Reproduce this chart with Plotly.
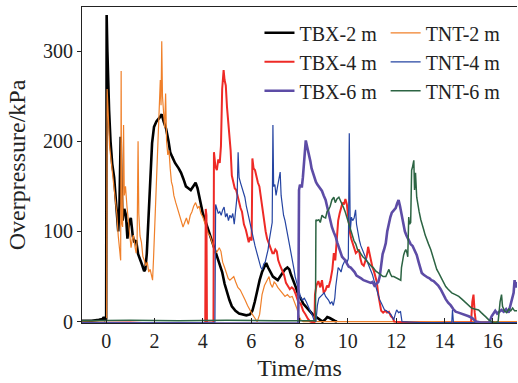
import plotly.graph_objects as go

# ---- data: (time in ms, overpressure in kPa) ----
tbx_2m = [(-1.0,1),(-0.6,1),(-0.3,2),(-0.15,3),(-0.1,5),(-0.05,2),(0.0,3),(0.02,340),(0.05,300),(0.08,265),
          (0.12,235),(0.18,200),(0.25,175),(0.33,160),(0.4,135),(0.45,118),(0.5,100),(0.55,128),(0.6,205),(0.63,160),
          (0.68,112),(0.75,125),(0.82,118),(0.88,92),(0.95,110),(1.02,115),(1.1,95),(1.17,88),(1.24,90),(1.32,75),
          (1.4,68),(1.5,62),(1.57,56),(1.62,58),(1.68,75),(1.75,110),(1.82,160),(1.9,198),(1.98,216),(2.08,222),
          (2.2,226),(2.3,230),(2.38,222),(2.48,214),(2.58,200),(2.65,188),(2.73,183),(2.85,176),(3.0,170),(3.1,165),
          (3.2,158),(3.3,150),(3.4,148),(3.5,146),(3.6,150),(3.7,154),(3.78,148),(3.85,138),(3.92,128),(4.0,120),
          (4.1,112),(4.2,104),(4.3,96),(4.4,88),(4.5,80),(4.6,72),(4.7,65),(4.8,55),(4.9,42),(5.0,32),
          (5.1,24),(5.2,17),(5.35,12),(5.5,9),(5.65,8),(5.8,7),(5.95,8),(6.05,12),(6.15,22),(6.25,35),
          (6.35,46),(6.45,55),(6.55,62),(6.62,65),(6.7,60),(6.8,54),(6.9,50),(7.0,48),(7.1,46),(7.2,50),
          (7.3,54),(7.4,58),(7.5,60),(7.58,58),(7.65,52),(7.75,46),(7.85,38),(7.95,30),(8.05,26),(8.15,20),
          (8.25,17),(8.35,14),(8.45,10),(8.55,8),(8.65,6),(8.75,4),(8.85,2),(8.95,0),(9.05,2),(9.15,5),
          (9.25,4),(9.35,2),(9.45,1),(9.55,0)]

tnt_2m = [(-1,0.5),(-0.5,1),(0,1),(0.02,2),(0.04,258),(0.07,240),(0.1,210),(0.14,195),(0.2,180),(0.26,160),
          (0.32,150),(0.38,135),(0.44,120),(0.5,95),(0.55,80),(0.6,68),(0.62,278),(0.64,110),(0.68,105),(0.72,218),
          (0.75,140),(0.8,150),(0.86,128),(0.92,110),(0.97,100),(1.03,82),(1.08,92),(1.13,96),(1.18,85),(1.24,76),
          (1.28,90),(1.32,200),(1.35,120),(1.4,95),(1.46,88),(1.52,72),(1.58,68),(1.64,62),(1.7,66),(1.76,55),
          (1.82,58),(1.88,48),(1.92,46),(1.96,70),(2.02,110),(2.06,130),(2.1,165),(2.15,190),(2.2,225),(2.24,268),
          (2.27,240),(2.3,311),(2.33,250),(2.37,230),(2.42,215),(2.46,253),(2.5,200),(2.55,185),(2.6,190),(2.65,170),
          (2.7,155),(2.75,150),(2.8,140),(2.88,132),(2.95,125),(3.02,120),(3.1,112),(3.18,105),(3.25,110),(3.32,115),
          (3.4,108),(3.48,118),(3.55,122),(3.62,128),(3.7,132),(3.78,126),(3.85,128),(3.92,120),(4.0,116),(4.08,110),
          (4.15,104),(4.22,98),(4.3,95),(4.38,88),(4.45,82),(4.52,76),(4.6,78),(4.68,82),(4.75,78),(4.82,66),
          (4.9,60),(4.98,54),(5.05,48),(5.12,46),(5.2,48),(5.28,50),(5.36,44),(5.45,38),(5.55,35),(5.65,30),
          (5.75,24),(5.85,18),(5.95,12),(6.05,8),(6.15,4),(6.25,0),(6.35,8),(6.45,30),(6.55,40),(6.65,45),
          (6.74,50),(6.8,42),(6.88,38),(6.95,44),(7.02,42),(7.1,38),(7.2,35),(7.3,32),(7.4,28),(7.5,30),
          (7.6,27),(7.7,28),(7.8,22),(7.9,14),(7.98,6),(8.05,2),(8.15,0),(9,0),(12,0),(17,0)]

tbx_4m = [(-1,-1.5),(0,-1.5),(1,-1),(2,-2),(3,-1.5),(4.1,-1.5),(4.12,125),(4.15,118),(4.17,-1),(4.44,-1),
          (4.46,188),(4.52,172),(4.58,168),(4.64,180),(4.7,176),(4.75,195),(4.8,258),(4.86,279),(4.9,268),(4.95,262),
          (5.0,238),(5.05,222),(5.1,210),(5.15,190),(5.2,162),(5.26,155),(5.32,148),(5.38,146),(5.44,138),(5.5,132),
          (5.56,126),(5.62,122),(5.7,108),(5.78,102),(5.85,92),(5.9,88),(5.96,94),(6.02,90),(6.05,181),(6.1,170),
          (6.16,168),(6.22,160),(6.28,154),(6.34,150),(6.4,138),(6.46,125),(6.53,110),(6.6,100),(6.66,92),(6.72,88),
          (6.8,82),(6.88,76),(6.94,76),(7.0,80),(7.06,78),(7.12,68),(7.2,62),(7.28,56),(7.36,52),(7.44,43),
          (7.52,40),(7.6,36),(7.68,38),(7.76,36),(7.85,30),(7.95,22),(8.05,20),(8.15,12),(8.25,8),(8.35,3),
          (8.45,0),(8.55,-1),(8.62,-1),(8.64,30),(8.7,40),(8.78,45),(8.86,38),(8.93,46),(9.0,32),(9.08,35),
          (9.14,40),(9.2,38),(9.28,46),(9.36,58),(9.42,76),(9.48,68),(9.55,98),(9.6,112),(9.66,120),(9.72,128),
          (9.78,132),(9.84,130),(9.9,136),(9.96,130),(10.02,114),(10.08,100),(10.14,92),(10.2,86),(10.27,80),(10.33,76),
          (10.4,78),(10.46,80),(10.52,70),(10.58,64),(10.66,62),(10.72,66),(10.78,72),(10.84,83),(10.9,75),(10.95,68),
          (11.02,60),(11.08,56),(11.14,50),(11.2,44),(11.26,30),(11.32,18),(11.38,12),(11.46,10),(11.55,12),(11.62,10),
          (11.7,11),(11.78,6),(11.86,4),(11.92,0),(12.5,-1),(13.5,-1.5),(14.5,-1),(15.1,-1),(15.15,22),(15.2,30),
          (15.25,10),(15.3,-1)]

tnt_4m = [(-1,-1),(1,-1),(2,-0.5),(3,-1),(4,-1),(4.5,-1),(4.53,130),(4.58,124),(4.64,120),(4.7,122),
          (4.76,118),(4.82,124),(4.88,127),(4.94,116),(5.0,120),(5.06,112),(5.12,118),(5.18,115),(5.24,120),(5.3,108),
          (5.36,122),(5.42,140),(5.46,188),(5.5,160),(5.56,154),(5.62,148),(5.68,143),(5.74,138),(5.8,128),(5.86,120),
          (5.92,113),(5.98,106),(6.04,100),(6.1,90),(6.16,84),(6.22,78),(6.28,72),(6.34,65),(6.4,60),(6.46,58),
          (6.52,64),(6.58,66),(6.64,72),(6.7,80),(6.76,92),(6.82,104),(6.87,110),(6.9,218),(6.93,150),(6.98,152),
          (7.03,140),(7.08,148),(7.14,160),(7.2,166),(7.24,140),(7.28,128),(7.34,118),(7.4,112),(7.46,104),(7.52,94),
          (7.58,86),(7.64,76),(7.7,70),(7.76,60),(7.82,50),(7.88,44),(7.94,38),(8.0,32),(8.06,26),(8.12,24),
          (8.2,26),(8.28,22),(8.36,16),(8.44,12),(8.52,8),(8.6,2),(8.68,0),(8.74,18),(8.8,26),(8.88,28),
          (8.95,30),(9.02,32),(9.08,28),(9.14,26),(9.2,24),(9.27,20),(9.34,22),(9.4,18),(9.46,26),(9.5,39),
          (9.55,54),(9.6,60),(9.66,58),(9.72,55),(9.78,62),(9.84,66),(9.9,69),(9.96,65),(10.02,70),(10.06,209),
          (10.1,100),(10.15,116),(10.2,112),(10.26,115),(10.32,124),(10.36,108),(10.42,96),(10.48,90),(10.54,84),(10.6,80),
          (10.68,74),(10.74,72),(10.8,66),(10.88,62),(10.95,56),(11.02,52),(11.08,46),(11.14,40),(11.2,34),(11.26,28),
          (11.32,24),(11.38,21),(11.44,17),(11.52,13),(11.6,12),(11.7,10),(11.78,8),(11.86,4),(11.9,2),(11.96,8),
          (12.02,13),(12.1,10),(12.18,11),(12.24,0),(13,-1),(14.3,-1),(14.33,13),(14.37,-1),(15,-1),(16,-1),(17,-1)]

tbx_6m = [(-1,-2),(2,-2),(4,-2.5),(6,-2),(7.95,-2),(7.98,146),(8.02,152),(8.06,150),(8.1,150),(8.14,160),
          (8.18,178),(8.22,192),(8.26,201),(8.3,196),(8.35,190),(8.4,187),(8.45,178),(8.5,170),(8.56,164),(8.62,158),
          (8.68,155),(8.74,152),(8.8,150),(8.86,148),(8.93,145),(9.0,140),(9.08,135),(9.14,128),(9.2,121),(9.27,112),
          (9.34,105),(9.42,99),(9.5,94),(9.56,88),(9.63,83),(9.7,77),(9.76,72),(9.83,70),(9.9,68),(9.97,64),
          (10.04,61),(10.12,60),(10.2,58),(10.28,55),(10.36,51),(10.45,50),(10.55,48),(10.65,46),(10.74,45),(10.84,44),
          (10.95,43),(11.02,44),(11.1,40),(11.18,42),(11.26,44),(11.32,50),(11.38,65),(11.44,75),(11.5,80),(11.57,87),
          (11.63,100),(11.7,110),(11.76,116),(11.82,121),(11.9,124),(11.98,126),(12.04,131),(12.1,135),(12.16,128),(12.23,118),
          (12.3,105),(12.36,100),(12.42,96),(12.52,91),(12.6,86),(12.68,84),(12.75,80),(12.85,74),(12.93,66),(13.0,60),
          (13.06,54),(13.14,52),(13.22,50),(13.3,49),(13.38,48),(13.46,46),(13.55,45),(13.64,43),(13.74,40),(13.84,36),
          (13.95,30),(14.05,25),(14.15,21),(14.26,18),(14.36,14),(14.46,11),(14.58,10),(14.7,9),(14.85,8),(15.0,6),
          (15.15,4),(15.3,0),(15.5,-1),(15.7,-1),(15.85,-1),(15.95,6),(16.03,10),(16.1,12),(16.18,9),(16.26,11),
          (16.36,13),(16.45,11),(16.55,14),(16.65,10),(16.72,18),(16.8,28),(16.86,32),(16.9,46),(16.95,38),(17,44)]

tnt_6m = [(-1,1),(1,1.5),(3,1),(5,1.5),(7,1),(8.66,1),(8.68,113),(8.72,112),(8.8,113),(8.86,110),
          (8.93,118),(9.0,116),(9.08,115),(9.14,122),(9.2,124),(9.27,128),(9.34,135),(9.42,138),(9.48,132),(9.55,136),
          (9.63,138),(9.7,134),(9.76,131),(9.83,126),(9.9,121),(9.97,115),(10.04,110),(10.1,103),(10.17,98),(10.25,90),
          (10.33,86),(10.4,80),(10.47,78),(10.54,75),(10.62,72),(10.7,70),(10.78,67),(10.87,65),(10.95,62),(11.05,60),
          (11.16,56),(11.26,54),(11.36,52),(11.46,50),(11.57,50),(11.64,55),(11.7,58),(11.76,53),(11.82,50),(11.9,50),
          (11.98,49),(12.05,48),(12.12,47),(12.19,46),(12.22,60),(12.26,68),(12.31,74),(12.36,78),(12.4,80),(12.45,76),
          (12.48,72),(12.52,116),(12.55,108),(12.6,110),(12.64,168),(12.68,172),(12.73,179),(12.76,146),(12.8,165),(12.85,138),
          (12.9,128),(12.95,122),(13.02,113),(13.08,106),(13.14,102),(13.2,96),(13.26,91),(13.34,86),(13.43,80),(13.5,74),
          (13.55,69),(13.62,63),(13.68,58),(13.76,54),(13.84,50),(13.94,45),(14.05,39),(14.15,36),(14.3,32),(14.45,30),
          (14.59,28),(14.72,25),(14.88,21),(15.0,18),(15.12,15),(15.25,14),(15.41,13),(15.52,10),(15.62,8),(15.72,5),
          (15.83,2),(15.95,0),(16.1,-1),(16.22,0),(16.3,22),(16.36,30),(16.4,17),(16.48,12),(16.57,10),(16.66,14),
          (16.74,12),(16.82,15),(16.9,12),(17,12)]

x_ticks = [0, 2, 4, 6, 8, 10, 12, 14, 16]
y_ticks = [0, 100, 200, 300]

FONT = "Liberation Serif"
TEXT = "#222222"

series = [
    ("TBX-2 m", tbx_2m, "#000000", 2.6, "legend"),
    ("TNT-2 m", tnt_2m, "#f0802a", 1.2, "legend2"),
    ("TBX-4 m", tbx_4m, "#ee2a26", 2.0, "legend"),
    ("TNT-4 m", tnt_4m, "#2544a2", 1.2, "legend2"),
    ("TBX-6 m", tbx_6m, "#5d4ca6", 2.6, "legend"),
    ("TNT-6 m", tnt_6m, "#2c6443", 1.5, "legend2"),
]

fig = go.Figure()
for name, pts, color, w, lg in series:
    fig.add_trace(go.Scatter(
        x=[p[0] for p in pts], y=[p[1] for p in pts], mode="lines", name=name,
        line=dict(color=color, width=w), legend=lg))

leg_common = dict(y=0.98, yanchor="top", xanchor="left", bgcolor="rgba(0,0,0,0)",
                  orientation="v", borderwidth=0, tracegroupgap=0)

fig.update_layout(
    width=518, height=383,
    margin=dict(l=82, r=1, t=7, b=60),
    paper_bgcolor="white", plot_bgcolor="white",
    font=dict(family=FONT, size=20, color=TEXT),
    showlegend=True,
    legend=dict(x=0.408, **leg_common),
    legend2=dict(x=0.698, **leg_common),
    xaxis=dict(range=[-1, 17], tickvals=x_ticks, ticks="inside", ticklen=5, tickcolor=TEXT,
               showline=True, linecolor=TEXT, linewidth=1, mirror=True, showgrid=False,
               zeroline=False, title=dict(text="Time/ms", standoff=8)),
    yaxis=dict(range=[-1.5, 349], tickvals=y_ticks, ticks="outside", ticklen=4, tickcolor=TEXT,
               showline=True, linecolor=TEXT, linewidth=1, showgrid=False, zeroline=False,
               title=dict(text="Overpressure/kPa", standoff=10)),
)

fig.write_html("out.html")
